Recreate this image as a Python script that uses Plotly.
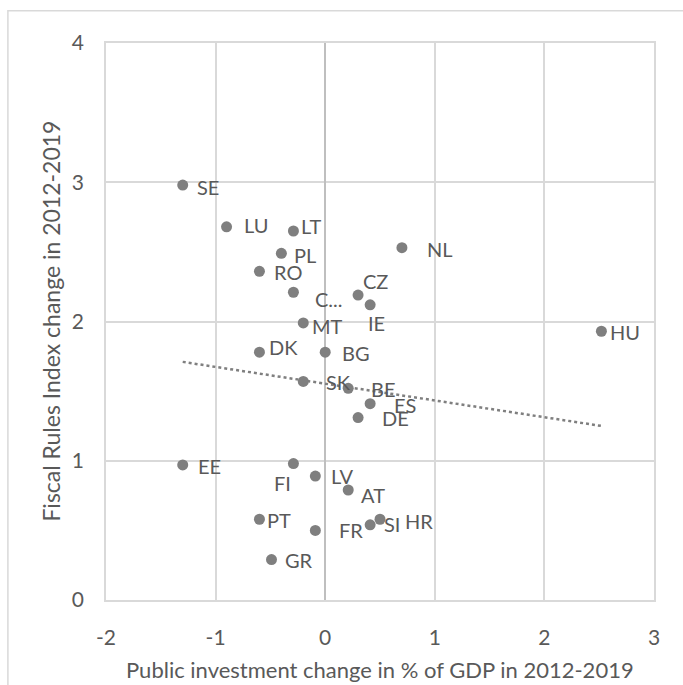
import plotly.graph_objects as go

countries = ["SE", "LU", "LT", "PL", "RO", "C...", "CZ", "IE", "NL", "MT", "DK", "BG", "SK",
             "BE", "ES", "DE", "EE", "FI", "LV", "AT", "PT", "FR", "SI", "HR", "GR", "HU"]
invest_change = [-1.3, -0.9, -0.29, -0.4, -0.6, -0.29, 0.3, 0.41, 0.7, -0.2, -0.6, 0.0, -0.2,
                 0.21, 0.41, 0.3, -1.3, -0.29, -0.09, 0.21, -0.6, -0.09, 0.41, 0.5, -0.49, 2.52]
rules_change = [2.98, 2.68, 2.65, 2.49, 2.36, 2.21, 2.19, 2.12, 2.53, 1.99, 1.78, 1.78, 1.57,
                1.52, 1.41, 1.31, 0.97, 0.98, 0.89, 0.79, 0.58, 0.50, 0.54, 0.58, 0.29, 1.93]
# linear trendline end points
trend_x = [-1.3, 2.52]
trend_y = [1.71, 1.25]
x_ticks = [-2, -1, 0, 1, 2, 3]
x_tick_labels = ["-2", "-1", "0", "1", "2", "3"]
y_ticks = [0, 1, 2, 3, 4]
y_tick_labels = ["0", "1", "2", "3", "4"]

# label offsets (style only): pixels right / down from the point, and anchor
label_style = {
    "SE": (13, 2, "left"), "LU": (16, -2, "left"), "LT": (7, -5, "left"), "PL": (12, 2, "left"),
    "RO": (14, 1, "left"), "C...": (21, 7, "left"), "CZ": (4, -14, "left"), "IE": (-3, 18, "left"),
    "NL": (24, 1, "left"), "MT": (8, 3, "left"), "DK": (9, -5, "left"), "BG": (16, 1, "left"),
    "SK": (22, 1, "left"), "BE": (22, 1, "left"), "ES": (23, 1, "left"), "DE": (23, 0, "left"),
    "EE": (14, 1, "left"), "FI": (1, 19, "right"), "LV": (15, 0, "left"), "AT": (12, 5, "left"),
    "PT": (7, 1, "left"), "FR": (23, 0, "left"), "SI": (13, -1, "left"), "HR": (24, 2, "left"),
    "GR": (12, 0, "left"), "HU": (8, 1, "left"),
}

FONT = "Lato"
TXT = "#595959"
GRID = "#d9d9d9"

fig = go.Figure()
fig.add_trace(go.Scatter(x=trend_x, y=trend_y, mode="lines",
                         line=dict(color="#7f7f7f", width=2.5, dash="dot"),
                         hoverinfo="skip", showlegend=False))
fig.add_trace(go.Scatter(x=invest_change, y=rules_change, mode="markers",
                         marker=dict(color="#7f7f7f", size=11),
                         text=countries, showlegend=False))

annotations = []
for c, xi, yi in zip(countries, invest_change, rules_change):
    dx, dy, anc = label_style[c]
    annotations.append(dict(x=xi, y=yi, xref="x", yref="y", text=c, showarrow=False,
                            xanchor=anc, yanchor="middle", xshift=dx - 1, yshift=-dy,
                            font=dict(family=FONT, size=20, color=TXT)))

# axis titles
annotations.append(dict(x=0.5, y=-0.1248, xref="paper", yref="paper", showarrow=False,
                        text="Public investment change in % of GDP in 2012-2019",
                        xanchor="center", yanchor="middle",
                        font=dict(family=FONT, size=22, color=TXT)))
annotations.append(dict(x=-0.102, y=0.5, xref="paper", yref="paper", showarrow=False,
                        text="Fiscal Rules Index change in 2012-2019", textangle=-90,
                        xanchor="center", yanchor="middle",
                        font=dict(family=FONT, size=23, color=TXT)))

fig.update_layout(
    width=683, height=685,
    margin=dict(l=106, r=29, t=43, b=84.5),
    paper_bgcolor="white", plot_bgcolor="white",
    font=dict(family=FONT, size=20, color=TXT),
    annotations=annotations,
    shapes=[dict(type="rect", xref="paper", yref="paper",
                 x0=-0.179, x1=1.08, y0=-0.18, y1=1.058,
                 line=dict(color=GRID, width=1.5), layer="below")],
)
fig.update_xaxes(range=[-2, 3], tickvals=x_ticks, ticktext=x_tick_labels,
                 showgrid=True, gridcolor=GRID, gridwidth=1.5,
                 zeroline=True, zerolinecolor="#bfbfbf", zerolinewidth=2,
                 showline=True, linecolor=GRID, linewidth=1.5, mirror=True,
                 ticks="", ticklabelstandoff=18, tickfont=dict(size=21, color=TXT))
fig.update_yaxes(range=[0, 4], tickvals=y_ticks, ticktext=y_tick_labels,
                 showgrid=True, gridcolor=GRID, gridwidth=1.5,
                 zeroline=True, zerolinecolor="#bfbfbf", zerolinewidth=2,
                 showline=True, linecolor=GRID, linewidth=1.5, mirror=True,
                 ticks="", ticklabelstandoff=16, tickfont=dict(size=21, color=TXT))

fig.write_html("out.html", config={"displayModeBar": False},
               post_script="document.body.style.margin='0';")
